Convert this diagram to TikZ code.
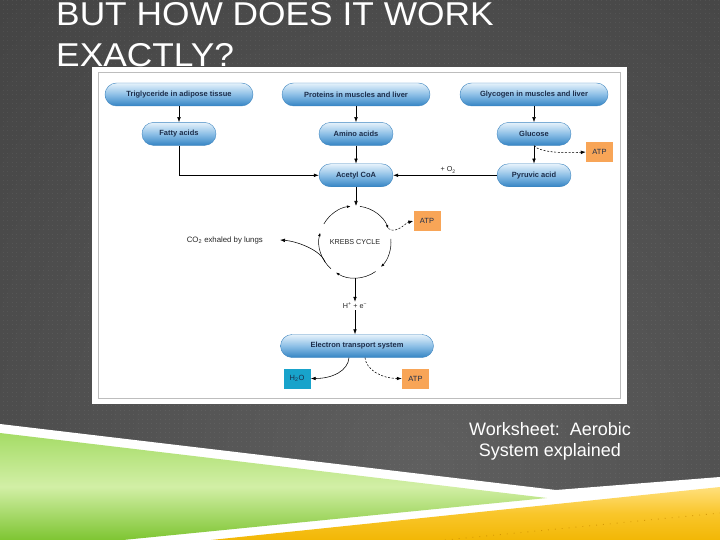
\documentclass[tikz,border=0pt]{standalone}
\usepackage{fontspec}
\setmainfont{Liberation Sans}
\newfontfamily\titlefont{Liberation Sans}[FakeStretch=1.07]
\usepackage{tikz}
\usetikzlibrary{arrows.meta,positioning,calc}
\definecolor{SlideDark}{HTML}{2B2B2B}
\definecolor{SlideLight}{HTML}{5F5F5F}
\definecolor{FrameRule}{HTML}{BDBDBD}
\definecolor{PillTop}{HTML}{E6F2FB}
\definecolor{PillMid}{HTML}{8CBFE6}
\definecolor{PillBottom}{HTML}{3484C4}
\definecolor{PillRim}{HTML}{3F86C0}
\definecolor{PillInk}{HTML}{1C2D4A}
\definecolor{AtpOrange}{HTML}{F8A557}
\definecolor{WaterTeal}{HTML}{18A3CB}
\definecolor{GrassTop}{HTML}{A5DC66}
\definecolor{GrassMid}{HTML}{D2EFA6}
\definecolor{GrassBottom}{HTML}{7EC532}
\definecolor{SunTop}{HTML}{FFE07C}
\definecolor{SunMid}{HTML}{F9C62A}
\definecolor{SunBottom}{HTML}{F2B705}
\definecolor{SunDots}{HTML}{C98A00}

\begin{document}
\begin{tikzpicture}[x=1pt,y=-1pt,
  pill/.style={rounded corners=11.5pt,minimum height=23pt,inner sep=0pt,draw=PillRim,line width=0.4pt,top color=PillTop,bottom color=PillBottom,middle color=PillMid,text=PillInk,font=\fontsize{7.5}{8}\selectfont\bfseries},
  bigpill/.style={pill,minimum width=148pt},
  smallpill/.style={pill,minimum width=74pt},
  tag/.style={minimum width=27pt,minimum height=20pt,inner sep=0pt,text=PillInk,font=\fontsize{7.5}{8}\selectfont},
  atp/.style={tag,fill=AtpOrange},
  water/.style={tag,fill=WaterTeal},
  note/.style={inner sep=1pt,text=black!85,font=\fontsize{7.2}{8}\selectfont},
  flow/.style={-{Latex[length=5pt,width=3.6pt]},line width=0.55pt},
  spare/.style={flow,dash pattern=on 2pt off 1.6pt},
  cyc/.style={-{Latex[length=3.6pt,width=2.6pt]},line width=0.5pt},
  slidetext/.style={inner sep=0pt,text=white}
]
\useasboundingbox (0,0) rectangle (720,540);
% slide background
\begin{scope}
  \clip (0,0) rectangle (720,540);
  \shade[inner color=SlideLight,outer color=SlideDark] (-780,-730) rectangle (1620,1670);
  \foreach \gx in {3,7.5,...,720}
    \draw[white,opacity=0.06,line width=0.9pt,dash pattern=on 0.9pt off 3.6pt] (\gx,0) -- (\gx,540);
\end{scope}
% swooshes
\fill[white] (0,424) -- (556,490) -- (720,477) -- (720,540) -- (0,540) -- cycle;
\shade[top color=GrassTop,bottom color=GrassBottom,middle color=GrassMid] (0,433) -- (547,498) -- (123,540) -- (0,540) -- cycle;
\shade[top color=SunTop,bottom color=SunBottom,middle color=SunMid] (211,540) -- (720,487) -- (720,540) -- cycle;
\draw[SunDots,opacity=0.7,line width=0.9pt,dash pattern=on 0.9pt off 6pt] (445,540) -- (720,513);
% picture frame
\fill[white] (92,67) rectangle (627,404);
\draw[FrameRule,line width=1.8pt] (98.5,72.5) rectangle (620.5,398.5);

\node[slidetext,anchor=base west,font=\titlefont\fontsize{33}{40}\selectfont] (title) at (56,26) {BUT HOW DOES IT WORK};
\node[slidetext,anchor=base west,font=\titlefont\fontsize{33}{40}\selectfont] (titlemore) at (56,67) {EXACTLY?};
\node[slidetext,anchor=north,align=center,font=\fontsize{18}{21}\selectfont] (caption) at (550,422) {Worksheet:\ \ Aerobic\\System explained};

% fuel sources
\node[bigpill] (trig) at (179,94.5) {Triglyceride in adipose tissue};
\node[bigpill] (prot) at (356,94.5) {Proteins in muscles and liver};
\node[bigpill] (glyc) at (534,94.5) {Glycogen in muscles and liver};
\node[smallpill,below=16pt of trig] (fatty) {Fatty acids};
\node[smallpill,below=16pt of prot] (amino) {Amino acids};
\node[smallpill,below=16pt of glyc] (glucose) {Glucose};
\node[smallpill,below=18pt of amino] (acetyl) {Acetyl CoA};
\node[smallpill,below=18pt of glucose] (pyruvic) {Pyruvic acid};
\node[atp] (atpg) at (599.5,152) {ATP};

% krebs cycle
\node[note,circle,minimum size=72pt,inner sep=0pt,outer sep=0pt] (krebs) at (355,242) {KREBS CYCLE};
\node[atp] (atpk) at (427,221) {ATP};
\node[note,anchor=east,font=\fontsize{7.8}{8}\selectfont] (co2) at (264,240) {CO\textsubscript{2} exhaled by lungs};
\node[note] (hplus) at (355,306) {H\textsuperscript{+} + e\textsuperscript{−}};

% electron transport
\node[pill,minimum width=153pt] (ets) at (357,346) {Electron transport system};
\node[water] (water) at (297,378.5) {H\textsubscript{2}O};
\node[atp] (atpe) at (415.5,378.5) {ATP};

\draw[flow] (trig) -- (fatty);
\draw[flow] (prot) -- (amino);
\draw[flow] (glyc) -- (glucose);
\draw[flow] (amino) -- (acetyl);
\draw[flow] (glucose) -- (pyruvic);
\draw[flow] (fatty.south) |- (acetyl.west);
\draw[flow] (pyruvic.west) -- node[note,above=1pt,pos=0.47] (oxygen) {+ O\textsubscript{2}} (acetyl.east);
\draw[spare] (glucose.south) .. controls +(6,8) and +(-14,1) .. (atpg.west);
\draw[flow] (acetyl.south) -- (acetyl.south |- krebs.north);
\begin{scope}[y=1pt]
  \foreach \from/\to in {82/22,5/-44,-55/-122,-132/-195,150/97}
    \draw[cyc] (krebs.\from) arc[start angle=\from,end angle=\to,radius=36];
\end{scope}
\draw[spare] (krebs.22) .. controls +(8,6) and +(-8,2) .. (atpk.west);
\draw[flow] (krebs.-146) .. controls +(-5,-13) and +(15,1) .. ([xshift=16pt]co2.east);
\draw[flow] (krebs.south) -- (hplus.north);
\draw[flow] (hplus.south) -- (hplus.south |- ets.north);
\draw[flow] ([xshift=-8pt]ets.south) .. controls +(-1,13) and +(22,0) .. (water.east);
\draw[spare] ([xshift=8pt]ets.south) .. controls +(1,12) and +(-20,0) .. (atpe.west);
\end{tikzpicture}
\end{document}
